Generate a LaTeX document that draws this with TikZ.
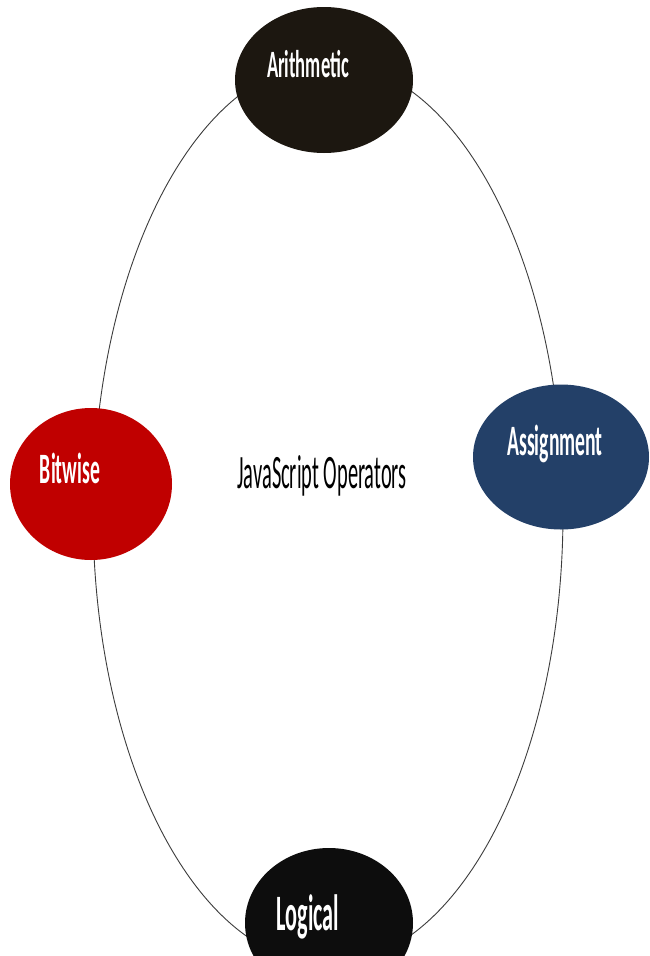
\documentclass[tikz,border=0pt]{standalone}
\usepackage{fontspec}
\setmainfont{Carlito}
\usetikzlibrary{shapes.geometric}
\definecolor{arithc}{RGB}{28,23,16}
\definecolor{assignc}{RGB}{35,64,104}
\definecolor{bitc}{RGB}{192,0,0}
\definecolor{logc}{RGB}{13,13,13}
\definecolor{ringc}{RGB}{60,60,60}
\tikzset{
  blob/.style={ellipse, inner sep=0pt, outer sep=0pt, draw=none},
  lbl/.style={inner sep=0pt, anchor=base, text=white},
}
\newcommand{\lbltext}[3]{\scalebox{1}[#2]{\fontsize{#1}{#1}\selectfont #3}}
\begin{document}
\begin{tikzpicture}[x=1pt,y=-1pt]
\useasboundingbox[fill=white] (0,0) rectangle (650,956);
\begin{scope}
\clip (0,0) rectangle (650,956);
\node[ellipse, draw=ringc, line width=0.9pt, minimum width=470pt, minimum height=902pt, inner sep=0pt] (ring) at (328,513) {};
\node[blob, fill=arithc, minimum width=178pt, minimum height=146pt] (arith) at (324,80) {};
\node[blob, fill=assignc, minimum width=176pt, minimum height=145pt] (assign) at (561,457) {};
\node[blob, fill=bitc, minimum width=162pt, minimum height=152pt] (bit) at (91,484) {};
\node[blob, fill=logc, minimum width=168pt, minimum height=150pt] (logic) at (329,923) {};
\end{scope}
\node[lbl] (arithT) at (308,77) {\lbltext{18.6}{2.08}{\bfseries Arithmetic}};
\node[lbl] (assignT) at (555,455) {\lbltext{19.7}{2.2}{\bfseries Assignment}};
\node[lbl] (bitT) at (70,483) {\lbltext{19.7}{2.2}{\bfseries Bitwise}};
\node[lbl] (logicT) at (308,930) {\lbltext{22.2}{2.3}{\bfseries Logical}};
\node[lbl, text=black] (title) at (322,488) {\lbltext{20.4}{2.35}{JavaScript Operators}};
\end{tikzpicture}
\end{document}
